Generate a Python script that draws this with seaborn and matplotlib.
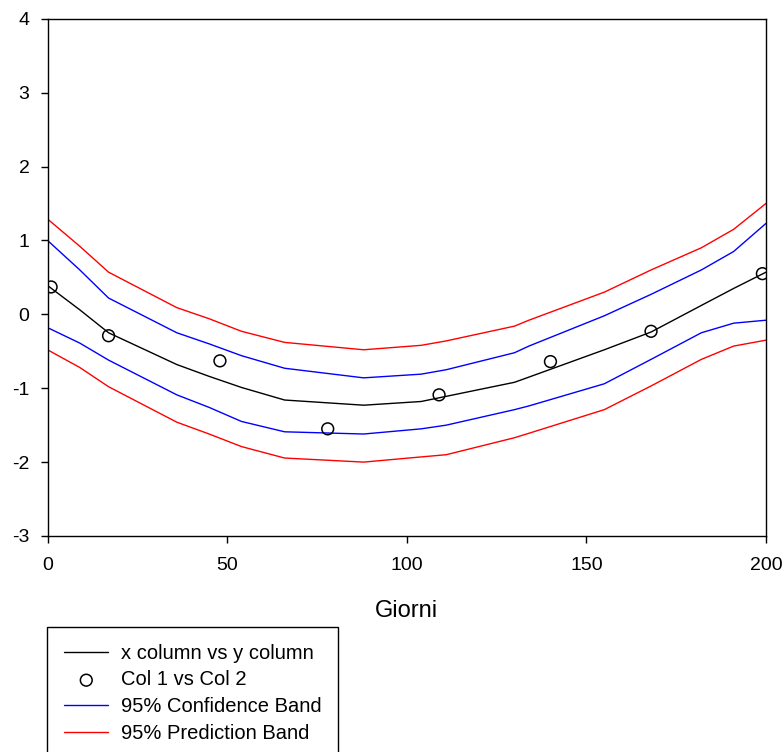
import matplotlib
matplotlib.use("Agg")
import matplotlib.pyplot as plt
import seaborn as sns
import pandas as pd

# observed points
obs_x = [1, 17, 48, 78, 109, 140, 168, 199]
obs_y = [0.37, -0.29, -0.63, -1.55, -1.09, -0.64, -0.23, 0.55]

# curves
curve_x = [0, 9, 17, 36, 45, 54, 66, 88, 104, 111, 130, 134, 155, 168, 182, 191, 200]
fit_y   = [0.39, 0.06, -0.25, -0.68, -0.84, -0.99, -1.16, -1.23, -1.18, -1.11, -0.92, -0.85, -0.48, -0.24, 0.12, 0.35, 0.57]
conf_hi = [1.00, 0.60, 0.22, -0.25, -0.40, -0.56, -0.73, -0.86, -0.81, -0.75, -0.52, -0.43, -0.02, 0.27, 0.60, 0.85, 1.23]
conf_lo = [-0.18, -0.39, -0.62, -1.09, -1.26, -1.45, -1.59, -1.62, -1.55, -1.50, -1.29, -1.24, -0.94, -0.61, -0.25, -0.12, -0.08]
pred_hi = [1.29, 0.92, 0.57, 0.09, -0.06, -0.23, -0.38, -0.48, -0.42, -0.36, -0.16, -0.08, 0.30, 0.60, 0.90, 1.15, 1.50]
pred_lo = [-0.48, -0.72, -0.98, -1.46, -1.62, -1.79, -1.945, -2.00, -1.93, -1.90, -1.67, -1.61, -1.29, -0.97, -0.61, -0.43, -0.35]

x_ticks = [0, 50, 100, 150, 200]
y_ticks = [-3, -2, -1, 0, 1, 2, 3, 4]
y_tick_labels = ["-3", "-2", "-1", "0", "1", "2", "3", "4"]

sns.set_style("white")
plt.rcParams['font.family'] = ['Liberation Sans', 'DejaVu Sans']
plt.rcParams['axes.unicode_minus'] = False

fig = plt.figure(figsize=(7.84, 7.52), dpi=100)
ax = fig.add_axes([47.5/784, 1-536/752, (766-47.5)/784, (536-18.7)/752])

df = pd.DataFrame({"x": curve_x, "fit": fit_y, "chi": conf_hi, "clo": conf_lo,
                   "phi": pred_hi, "plo": pred_lo})
lw = 1.0
sns.lineplot(data=df, x="x", y="fit", ax=ax, color="black", lw=lw, label="x column vs y column",
             estimator=None, sort=False)
sns.scatterplot(x=obs_x, y=obs_y, ax=ax, marker="o", s=72, facecolor="none",
                edgecolor="black", linewidth=1.1, label="Col 1 vs Col 2", zorder=5)
sns.lineplot(data=df, x="x", y="chi", ax=ax, color="#0000ff", lw=lw, label="95% Confidence Band",
             estimator=None, sort=False)
sns.lineplot(data=df, x="x", y="clo", ax=ax, color="#0000ff", lw=lw, estimator=None, sort=False)
sns.lineplot(data=df, x="x", y="phi", ax=ax, color="#ff0000", lw=lw, label="95% Prediction Band",
             estimator=None, sort=False)
sns.lineplot(data=df, x="x", y="plo", ax=ax, color="#ff0000", lw=lw, estimator=None, sort=False)

ax.set_xlim(0, 200)
ax.set_ylim(-3, 4)
ax.set_xticks(x_ticks)
ax.set_yticks(y_ticks)
ax.set_yticklabels(y_tick_labels)
ax.set_ylabel("")
ax.set_xlabel("Giorni", fontsize=17, labelpad=19, color="black")
ax.tick_params(axis="both", direction="out", length=5, width=1, labelsize=14,
               bottom=True, left=True, top=False, right=False, colors="black")
ax.tick_params(axis="x", pad=10)
ax.tick_params(axis="y", pad=8)
for s in ax.spines.values():
    s.set_visible(True)
    s.set_color("black")
    s.set_linewidth(1.0)

handles, labels = ax.get_legend_handles_labels()
ax.get_legend().remove()
leg = fig.legend(handles, labels, loc="upper left",
                 bbox_to_anchor=(47/784, 1-626.7/752), fontsize=14.5,
                 frameon=True, fancybox=False, edgecolor="black", framealpha=1,
                 borderpad=0.85, labelspacing=0.38, handlelength=2.2, handletextpad=0.6,
                 borderaxespad=0)
leg.get_frame().set_linewidth(1.0)
for t in leg.get_texts():
    t.set_color("black")

fig.savefig("out.png", dpi=100)
